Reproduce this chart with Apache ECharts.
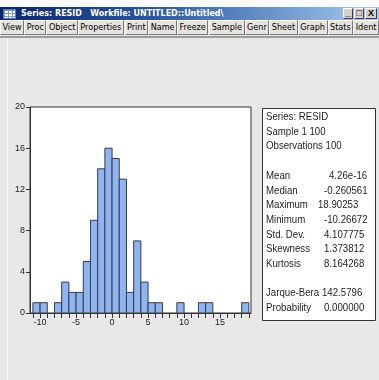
<!DOCTYPE html>
<html>
<head>
<meta charset="utf-8">
<script src="https://cdn.jsdelivr.net/npm/echarts@6/dist/echarts.min.js"></script>
<style>
  html, body { margin: 0; padding: 0; }
  body {
    width: 379px; height: 380px; position: relative; overflow: hidden;
    background: #e8e8e8;
    font-family: "DejaVu Sans Condensed", "Liberation Sans", sans-serif;
  }
  #chart { position: absolute; left: 0; top: 0; width: 379px; height: 380px; }
  #topstrip { position: absolute; left: 0; top: 0; width: 379px; height: 7px; background: #fafafa; z-index: 2; }
  #titlebar {
    position: absolute; left: 0; top: 7px; width: 379px; height: 13px; z-index: 2;
    background: linear-gradient(to right, #0a246a 0%, #2a58a0 40%, #a6caf0 100%);
  }
  #titlebar .icon {
    position: absolute; left: 3px; top: 2px; width: 13px; height: 10px;
    background: #fff; border: 1px solid #5a7ab8; box-sizing: border-box;
    background-image: linear-gradient(#7a9ad0 1px, transparent 1px), linear-gradient(90deg, #7a9ad0 1px, transparent 1px);
    background-size: 4px 3px;
  }
  #titlebar .title {
    position: absolute; left: 21px; top: 0; line-height: 13px; white-space: pre;
    color: #fff; font-weight: bold; font-size: 8.9px;
  }
  .wbtn {
    position: absolute; top: 1px; width: 10px; height: 11px; background: #d4d0c8;
    border: 1px solid; border-color: #fff #404040 #404040 #fff; box-sizing: border-box;
    font-size: 9px; line-height: 9px; text-align: center; color: #000; font-weight: bold;
    font-family: "Liberation Sans", Arial, sans-serif;
  }
  #toolbar {
    position: absolute; left: 0; top: 20px; width: 379px; height: 15px; z-index: 2;
    background: #ece9e4; display: flex; align-items: stretch; white-space: nowrap;
  }
  #toolbar .b {
    font-size: 9px; line-height: 13px; padding: 0 1.5px; color: #000;
    border: 1px solid; border-color: #fff #7a7a7a #7a7a7a #fff; background: #e6e3de;
  }
  #toolbar .gap { width: 3px; }
  #sep { position: absolute; left: 0; top: 36px; width: 379px; height: 2px; background: #9a9a9a; z-index: 2; }
  #edge { position: absolute; left: 7px; top: 38px; width: 1px; height: 342px; background: #f6f6f6; z-index: 2; }
</style>
</head>
<body>
<div id="chart"></div>
<div id="topstrip"></div>
<div id="titlebar">
  <div class="icon"></div>
  <div class="title">Series: RESID   Workfile: UNTITLED::Untitled\</div>
  <div class="wbtn" style="left:343px">_</div>
  <div class="wbtn" style="left:354px">&#9633;</div>
  <div class="wbtn" style="left:365px;width:12px">X</div>
</div>
<div id="toolbar">
  <span class="b">View</span><span class="b">Proc</span><span class="b">Object</span><span class="b">Properties</span>
  <span class="gap"></span>
  <span class="b">Print</span><span class="b">Name</span><span class="b">Freeze</span>
  <span class="gap"></span>
  <span class="b">Sample</span><span class="b">Genr</span><span class="b">Sheet</span><span class="b">Graph</span><span class="b">Stats</span><span class="b">Ident</span>
</div>
<div id="sep"></div>
<div id="edge"></div>
<script>
// Histogram of RESID: unit-wide bins, lower edge of each bin and its count
const binStarts = [-11, -10, -9, -8, -7, -6, -5, -4, -3, -2, -1, 0, 1, 2, 3, 4, 5, 6, 7, 8, 9, 10, 11, 12, 13, 14, 15, 16, 17, 18];
const counts    = [  1,   1,  0,  1,  3,  2,  2,  5,  9, 14, 16, 15, 13, 2, 7, 3, 1, 1, 0, 0, 1, 0, 0, 1, 1, 0, 0, 0, 0, 1];
const binWidth = 1;

// Axis ticks and labels
const xTickValues  = [-11, -10, -9, -8, -7, -6, -5, -4, -3, -2, -1, 0, 1, 2, 3, 4, 5, 6, 7, 8, 9, 10, 11, 12, 13, 14, 15, 16, 17, 18, 19];
const xLabelValues = [-10, -5, 0, 5, 10, 15];

// Descriptive statistics panel
const statHeader = ['Series: RESID', 'Sample 1 100', 'Observations 100'];
const statNames  = ['Mean', 'Median', 'Maximum', 'Minimum', 'Std. Dev.', 'Skewness', 'Kurtosis'];
const statValues = ['4.26e-16', '-0.260561', '18.90253', '-10.26672', '4.107775', '1.373812', '8.164268'];
const testNames  = ['Jarque-Bera', 'Probability'];
const testValues = ['142.5796', '0.000000'];

const histData = binStarts.map((b, i) => [b, counts[i]]);

// Stats panel layout (text is drawn slightly condensed)
const panel = { x: 262.5, y: 108.5, w: 113, h: 212 };
const lineH = 14.7, firstY = 117.2, nameX = 266;
const valueX = [329, 324, 318, 324, 324, 324, 324];
const testValueX = [322, 324];
const statFont = '10.5px "Liberation Sans", Arial, sans-serif';
const statScaleX = 0.92;
const axisFont = '"Liberation Sans", Arial, sans-serif';

const graphics = [{
  type: 'rect', shape: { x: panel.x, y: panel.y, width: panel.w, height: panel.h },
  style: { fill: '#ffffff', stroke: '#333333', lineWidth: 1 }, z: 10
}];
function addText(t, x, row) {
  graphics.push({ type: 'text', z: 11, x: x, y: firstY + row * lineH, scaleX: statScaleX,
    style: { text: t, x: 0, y: 0, font: statFont, fill: '#1e1e1e', verticalAlign: 'middle' } });
}
statHeader.forEach((t, i) => addText(t, nameX, i));
statNames.forEach((t, i) => { addText(t, nameX, 4 + i); addText(statValues[i], valueX[i], 4 + i); });
testNames.forEach((t, i) => { addText(t, nameX, 12 + i); addText(testValues[i], testValueX[i], 12 + i); });

const chart = echarts.init(document.getElementById('chart'), null, { renderer: 'canvas' });
chart.setOption({
  animation: false,
  backgroundColor: 'transparent',
  grid: {
    left: 30, top: 107, width: 221, height: 206,
    show: true, backgroundColor: '#ffffff', borderColor: '#333333', borderWidth: 1
  },
  xAxis: {
    type: 'value', min: -11.4, max: 19.3,
    axisLine: { show: true, onZero: false, lineStyle: { color: '#333333', width: 1 } },
    axisTick: { show: true, customValues: xTickValues, length: 5, lineStyle: { color: '#333333' } },
    axisLabel: { customValues: xLabelValues, fontSize: 9, color: '#222222', margin: 5, fontFamily: axisFont },
    splitLine: { show: false }
  },
  yAxis: {
    type: 'value', min: 0, max: 20, interval: 4,
    axisLine: { show: true, onZero: false, lineStyle: { color: '#333333', width: 1 } },
    axisTick: { show: true, length: 4, lineStyle: { color: '#333333' } },
    axisLabel: { fontSize: 9, color: '#222222', margin: 5, fontFamily: axisFont },
    splitLine: { show: false }
  },
  series: [{
    type: 'custom',
    data: histData,
    encode: { x: 0, y: 1 },
    renderItem: function (params, api) {
      const x0 = api.value(0), c = api.value(1);
      if (!c) return null;
      const top = api.coord([x0, c]);
      const base = api.coord([x0 + binWidth, 0]);
      return {
        type: 'rect',
        shape: { x: top[0], y: top[1], width: base[0] - top[0], height: base[1] - top[1] },
        style: { fill: '#8db4f3', stroke: '#3c3c3c', lineWidth: 1 }
      };
    }
  }],
  graphic: graphics
});
</script>
</body>
</html>
